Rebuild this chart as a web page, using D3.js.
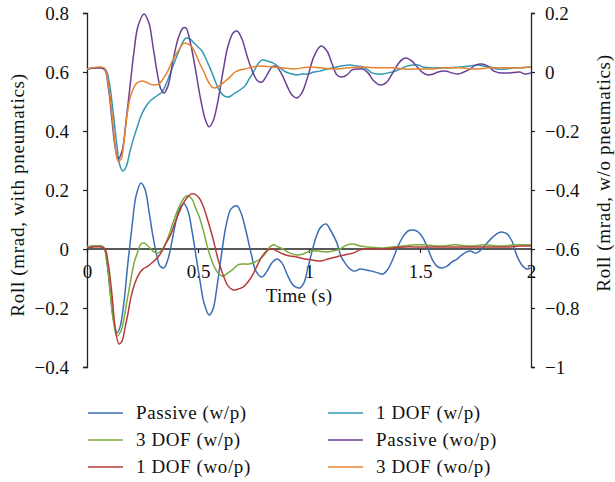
<!DOCTYPE html>
<html><head><meta charset="utf-8">
<script src="https://cdn.jsdelivr.net/npm/d3@7"></script>
<style>body{margin:0;background:#fff}svg{display:block}</style>
</head><body>
<script>
// ---------- DATA ----------
const seriesNames = ["Passive (w/p)", "1 DOF (w/p)", "3 DOF (w/p)", "Passive (wo/p)", "1 DOF (wo/p)", "3 DOF (wo/p)"];
const seriesColors = ["#3b6db5", "#3199b3", "#7bab3c", "#6a3f96", "#b73b3b", "#e6832f"];
const leftTicks = [-0.4, -0.2, 0, 0.2, 0.4, 0.6, 0.8];
const rightTicks = [-1, -0.8, -0.6, -0.4, -0.2, 0, 0.2];
const xTicks = [0, 0.5, 1, 1.5, 2];

// Passive (w/p) - left axis
const passiveWpT = [0,0.072,0.090,0.104,0.117,0.135,0.149,0.167,0.185,0.203,0.221,0.243,0.261,0.279,0.297,0.315,0.329,0.347,0.365,0.383,0.401,0.419,0.437,0.455,0.473,0.491,0.509,0.527,0.550,0.568,0.586,0.608,0.626,0.649,0.676,0.694,0.716,0.739,0.761,0.788,0.811,0.833,0.856,0.878,0.905,0.932,0.959,0.977,0.995,1.014,1.032,1.054,1.077,1.099,1.126,1.144,1.162,1.185,1.207,1.230,1.257,1.284,1.311,1.333,1.356,1.378,1.401,1.423,1.446,1.468,1.491,1.514,1.536,1.559,1.581,1.599,1.622,1.644,1.667,1.694,1.725,1.752,1.779,1.802,1.829,1.851,1.869,1.892,1.914,1.937,1.959,1.982,2.0];
const passiveWpV = [0.007,0.007,-0.047,-0.142,-0.227,-0.285,-0.264,-0.176,-0.041,0.078,0.180,0.224,0.203,0.129,0.044,-0.024,-0.058,-0.064,-0.034,0.027,0.095,0.139,0.153,0.129,0.061,-0.024,-0.108,-0.183,-0.224,-0.203,-0.125,-0.007,0.078,0.136,0.146,0.122,0.061,-0.014,-0.075,-0.095,-0.075,-0.047,-0.034,-0.047,-0.092,-0.125,-0.132,-0.115,-0.064,-0.007,0.041,0.075,0.085,0.061,0.020,-0.024,-0.047,-0.068,-0.075,-0.068,-0.071,-0.075,-0.081,-0.085,-0.068,-0.034,0.010,0.041,0.061,0.064,0.058,0.037,0.000,-0.041,-0.061,-0.064,-0.058,-0.044,-0.034,-0.017,-0.007,-0.014,0.000,0.020,0.041,0.054,0.058,0.051,0.027,-0.024,-0.054,-0.068,-0.064];

// 1 DOF (w/p) - right axis
const oneDofWpT = [0,0.081,0.099,0.117,0.135,0.149,0.162,0.176,0.194,0.212,0.225,0.243,0.261,0.284,0.302,0.320,0.338,0.356,0.374,0.396,0.414,0.432,0.446,0.464,0.482,0.500,0.518,0.536,0.554,0.572,0.590,0.608,0.631,0.649,0.667,0.689,0.712,0.730,0.748,0.770,0.788,0.811,0.838,0.869,0.896,0.923,0.946,0.968,0.995,1.023,1.050,1.081,1.108,1.144,1.185,1.216,1.243,1.266,1.284,1.311,1.333,1.356,1.378,1.410,1.441,1.468,1.491,1.514,1.545,1.577,1.613,1.635,1.680,1.725,1.761,1.784,1.815,1.847,1.883,1.919,1.959,2.0];
const oneDofWpV = [0.010,0.010,-0.031,-0.132,-0.251,-0.319,-0.336,-0.322,-0.268,-0.220,-0.190,-0.149,-0.122,-0.098,-0.088,-0.078,-0.068,-0.041,-0.007,0.037,0.071,0.102,0.115,0.112,0.098,0.085,0.071,0.044,0.014,-0.020,-0.054,-0.075,-0.085,-0.081,-0.071,-0.061,-0.047,-0.024,-0.003,0.027,0.041,0.037,0.031,0.014,0.000,-0.007,-0.010,-0.007,-0.007,0.000,0.003,0.010,0.014,0.020,0.024,0.020,0.017,0.007,-0.003,-0.007,-0.007,-0.003,0.000,0.010,0.020,0.024,0.024,0.017,0.014,0.014,0.014,0.014,0.017,0.020,0.024,0.020,0.017,0.010,0.010,0.014,0.014,0.017];

// 3 DOF (w/p) - left axis
const threeDofWpT = [0,0.072,0.090,0.104,0.117,0.135,0.153,0.167,0.180,0.194,0.212,0.225,0.243,0.257,0.275,0.297,0.315,0.333,0.351,0.369,0.387,0.405,0.423,0.441,0.455,0.473,0.491,0.509,0.527,0.545,0.568,0.590,0.613,0.635,0.658,0.680,0.703,0.730,0.757,0.779,0.802,0.824,0.842,0.860,0.883,0.914,0.946,0.973,1.005,1.041,1.077,1.108,1.140,1.171,1.198,1.230,1.266,1.320,1.374,1.423,1.477,1.523,1.590,1.658,1.725,1.793,1.860,1.928,2.0];
const threeDofWpV = [0.007,0.007,-0.047,-0.142,-0.234,-0.295,-0.278,-0.234,-0.176,-0.119,-0.047,-0.017,0.017,0.020,0.010,-0.007,-0.014,-0.007,0.014,0.047,0.088,0.125,0.156,0.176,0.180,0.169,0.136,0.102,0.054,0.000,-0.051,-0.081,-0.092,-0.081,-0.068,-0.054,-0.051,-0.051,-0.044,-0.034,-0.017,0.007,0.014,0.007,0.000,-0.014,-0.020,-0.017,-0.007,-0.007,-0.010,-0.007,0.000,0.014,0.017,0.010,0.007,0.003,0.007,0.010,0.014,0.014,0.010,0.014,0.010,0.014,0.010,0.014,0.014];

// Passive (wo/p) - right axis
const passiveWopT = [0,0.077,0.095,0.113,0.126,0.140,0.158,0.176,0.194,0.212,0.230,0.257,0.279,0.297,0.315,0.333,0.347,0.365,0.387,0.410,0.432,0.446,0.464,0.486,0.509,0.532,0.550,0.568,0.590,0.613,0.635,0.658,0.676,0.698,0.721,0.748,0.770,0.788,0.811,0.833,0.851,0.874,0.901,0.923,0.946,0.968,0.995,1.023,1.054,1.081,1.104,1.126,1.149,1.171,1.194,1.221,1.243,1.266,1.288,1.320,1.347,1.374,1.401,1.423,1.441,1.464,1.491,1.514,1.536,1.559,1.581,1.613,1.644,1.671,1.698,1.725,1.752,1.779,1.806,1.833,1.860,1.905,1.950,1.973,2.0];
const passiveWopV = [0.010,0.010,-0.047,-0.166,-0.251,-0.295,-0.268,-0.166,-0.047,0.071,0.156,0.197,0.166,0.088,0.003,-0.058,-0.071,-0.047,0.037,0.112,0.149,0.149,0.105,0.020,-0.081,-0.159,-0.186,-0.166,-0.098,0.003,0.088,0.132,0.139,0.112,0.054,-0.003,-0.031,-0.034,-0.010,0.017,0.020,-0.003,-0.047,-0.078,-0.088,-0.071,-0.014,0.054,0.088,0.071,0.027,-0.010,-0.017,-0.010,0.007,0.010,0.010,-0.003,-0.027,-0.044,-0.037,-0.007,0.027,0.044,0.047,0.037,0.014,-0.003,-0.010,-0.007,0.000,0.003,-0.003,-0.007,0.000,0.010,0.024,0.027,0.020,0.003,-0.003,-0.003,0.000,-0.007,-0.003];

// 1 DOF (wo/p) - left axis
const oneDofWopT = [0,0.077,0.095,0.113,0.126,0.144,0.158,0.171,0.185,0.198,0.216,0.234,0.252,0.275,0.297,0.320,0.338,0.356,0.374,0.396,0.414,0.432,0.450,0.468,0.486,0.505,0.523,0.545,0.568,0.590,0.613,0.635,0.658,0.680,0.703,0.725,0.748,0.770,0.793,0.815,0.833,0.856,0.883,0.914,0.946,0.982,1.014,1.050,1.086,1.122,1.162,1.198,1.230,1.266,1.320,1.378,1.432,1.500,1.568,1.635,1.703,1.770,1.838,1.905,1.950,2.0];
const oneDofWopV = [0.003,0.003,-0.047,-0.159,-0.261,-0.322,-0.312,-0.268,-0.217,-0.163,-0.115,-0.085,-0.068,-0.058,-0.044,-0.027,-0.007,0.020,0.044,0.088,0.122,0.153,0.173,0.186,0.186,0.173,0.146,0.095,0.034,-0.034,-0.088,-0.125,-0.139,-0.136,-0.129,-0.112,-0.085,-0.051,-0.020,-0.003,0.000,-0.007,-0.017,-0.024,-0.027,-0.034,-0.037,-0.041,-0.034,-0.027,-0.020,-0.014,-0.003,0.000,0.000,0.003,0.007,0.007,0.007,0.007,0.007,0.007,0.007,0.007,0.010,0.010];

// 3 DOF (wo/p) - right axis
const threeDofWopT = [0,0.077,0.095,0.113,0.126,0.140,0.153,0.167,0.180,0.194,0.212,0.225,0.243,0.266,0.284,0.306,0.324,0.342,0.360,0.378,0.396,0.414,0.437,0.455,0.473,0.491,0.509,0.527,0.545,0.563,0.577,0.595,0.613,0.640,0.667,0.689,0.712,0.743,0.788,0.833,0.878,0.937,0.968,1.005,1.050,1.108,1.176,1.243,1.311,1.378,1.432,1.491,1.545,1.613,1.680,1.748,1.815,1.883,1.941,2.0];
const threeDofWopV = [0.010,0.014,-0.037,-0.149,-0.241,-0.302,-0.295,-0.234,-0.149,-0.088,-0.051,-0.037,-0.031,-0.034,-0.041,-0.044,-0.041,-0.024,-0.003,0.027,0.054,0.075,0.098,0.095,0.085,0.058,0.027,0.000,-0.031,-0.051,-0.054,-0.047,-0.037,-0.020,0.000,0.007,0.010,0.017,0.020,0.017,0.014,0.010,0.014,0.017,0.014,0.010,0.014,0.017,0.014,0.014,0.010,0.010,0.010,0.014,0.014,0.010,0.014,0.014,0.014,0.017];

// ---------- CHART ----------
const W = 615, H = 482;
const svg = d3.select("body").append("svg").attr("width", W).attr("height", H);
const FONT = "'Liberation Serif', 'DejaVu Serif', serif";

const x = d3.scaleLinear().domain([0, 2]).range([87, 531]);
const yL = d3.scaleLinear().domain([-0.4, 0.8]).range([367, 13]);
const yR = d3.scaleLinear().domain([-1, 0.2]).range([367, 13]);

const fmt = d => d === 0 ? "0" : d3.format("")(d).replace("-", "\u2212");

// left axis
const gL = svg.append("g").attr("transform", "translate(87,0)")
  .call(d3.axisLeft(yL).tickValues(leftTicks).tickSize(4).tickPadding(14).tickFormat(fmt));
// right axis
const gR = svg.append("g").attr("transform", "translate(531,0)")
  .call(d3.axisRight(yR).tickValues(rightTicks).tickSize(4).tickPadding(10).tickFormat(fmt));
// x axis at y=0 on left axis
const gX = svg.append("g").attr("transform", `translate(0,${yL(0)})`)
  .call(d3.axisBottom(x).tickValues(xTicks).tickSize(4).tickPadding(12).tickFormat(fmt));

[gL, gR, gX].forEach(g => {
  g.selectAll("path.domain").attr("stroke", "#222").attr("stroke-width", 1.3);
  g.selectAll(".tick line").attr("stroke", "#222").attr("stroke-width", 1.2);
  g.selectAll("text").attr("font-family", FONT).attr("font-size", 19).attr("fill", "#111");
});
gX.select("path.domain").attr("d", `M87,0H531`);

// axis titles
svg.append("text").attr("transform", "translate(24,195) rotate(-90)")
  .attr("text-anchor", "middle").attr("font-family", FONT).attr("font-size", 19)
  .attr("letter-spacing", 0.7).attr("fill", "#111")
  .text("Roll (mrad, with pneumatics)");
svg.append("text").attr("transform", "translate(610,173) rotate(-90)")
  .attr("text-anchor", "middle").attr("font-family", FONT).attr("font-size", 19)
  .attr("letter-spacing", 0.7).attr("fill", "#111")
  .text("Roll (mrad, w/o pneumatics)");
svg.append("text").attr("x", 299).attr("y", 302)
  .attr("text-anchor", "middle").attr("font-family", FONT).attr("font-size", 19)
  .attr("letter-spacing", 0.3).attr("fill", "#111")
  .text("Time (s)");

// series
const series = [
  {t: passiveWpT, v: passiveWpV, y: yL},
  {t: oneDofWpT, v: oneDofWpV, y: yR},
  {t: threeDofWpT, v: threeDofWpV, y: yL},
  {t: passiveWopT, v: passiveWopV, y: yR},
  {t: oneDofWopT, v: oneDofWopV, y: yL},
  {t: threeDofWopT, v: threeDofWopV, y: yR}
];
series.forEach((s, i) => {
  const pts = s.t.map((t, k) => [t, s.v[k]]);
  const line = d3.line().x(d => x(d[0])).y(d => s.y(d[1])).curve(d3.curveCatmullRom.alpha(0.5));
  svg.append("path").datum(pts).attr("d", line)
    .attr("fill", "none").attr("stroke", seriesColors[i]).attr("stroke-width", 1.5);
});

// legend
const legendOrder = [0, 2, 4, 1, 3, 5];
legendOrder.forEach((si, k) => {
  const col = Math.floor(k / 3), row = k % 3;
  const lx = col === 0 ? 88 : 328;
  const ly = 413 + row * 27;
  svg.append("line").attr("x1", lx).attr("x2", lx + 35).attr("y1", ly).attr("y2", ly)
    .attr("stroke", seriesColors[si]).attr("stroke-width", 1.5);
  svg.append("text").attr("x", lx + 48).attr("y", ly + 6)
    .attr("font-family", FONT).attr("font-size", 19).attr("letter-spacing", 0.6).attr("fill", "#111")
    .text(seriesNames[si]);
});
</script>
</body></html>
